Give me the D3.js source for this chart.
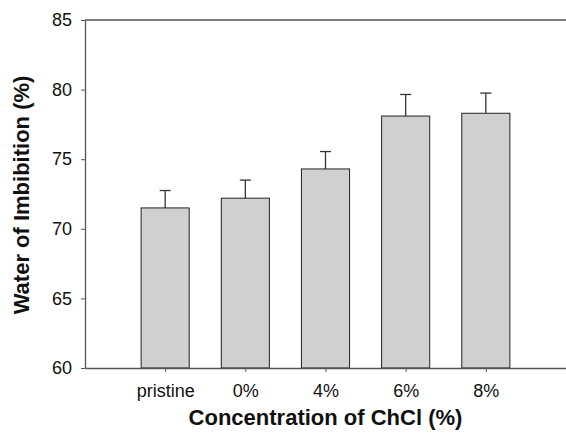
<!DOCTYPE html>
<html>
<head>
<meta charset="utf-8">
<script src="https://cdn.jsdelivr.net/npm/d3@7"></script>
<style>
  body { margin: 0; background: #fff; }
  svg { display: block; font-family: "Liberation Sans", Arial, sans-serif; }
</style>
</head>
<body>
<div id="chart"></div>
<script>
// data
const categories = ["pristine", "0%", "4%", "6%", "8%"];
const means = [71.5, 72.2, 74.3, 78.1, 78.3];
const errors = [1.25, 1.3, 1.25, 1.55, 1.45];
const yTicks = [60, 65, 70, 75, 80, 85];

const W = 566, H = 433;
const margin = {top: 20, right: 0, bottom: 65, left: 85};
const width = W - margin.left - margin.right;
const height = 368 - margin.top;

const svg = d3.select("#chart").append("svg")
    .attr("width", W)
    .attr("height", H);

const g = svg.append("g")
    .attr("transform", `translate(${margin.left},${margin.top})`);

const x = d3.scalePoint()
    .domain(categories)
    .range([0, width])
    .padding(1);

const y = d3.scaleLinear()
    .domain([60, 85])
    .range([height, 0]);

const barW = x.step() * 0.6;
const axisColor = "#555";

// bars
g.selectAll("rect.bar")
    .data(means)
    .enter()
    .append("rect")
    .attr("class", "bar")
    .attr("x", (d, i) => x(categories[i]) - barW / 2)
    .attr("y", d => y(d))
    .attr("width", barW)
    .attr("height", d => height - y(d))
    .attr("fill", "#d0d0d0")
    .attr("stroke", "#222")
    .attr("stroke-width", 1);

// error bars (upper only)
const err = g.selectAll("g.err")
    .data(means)
    .enter()
    .append("g")
    .attr("class", "err");

err.append("line")
    .attr("x1", (d, i) => x(categories[i]))
    .attr("x2", (d, i) => x(categories[i]))
    .attr("y1", d => y(d))
    .attr("y2", (d, i) => y(d + errors[i]))
    .attr("stroke", "#333")
    .attr("stroke-width", 1.3);

err.append("line")
    .attr("x1", (d, i) => x(categories[i]) - 5.5)
    .attr("x2", (d, i) => x(categories[i]) + 5.5)
    .attr("y1", (d, i) => y(d + errors[i]))
    .attr("y2", (d, i) => y(d + errors[i]))
    .attr("stroke", "#333")
    .attr("stroke-width", 1.3);

// axes
const axeX = d3.axisBottom(x).tickSize(4).tickPadding(12).tickSizeOuter(0);
const axeY = d3.axisLeft(y).tickValues(yTicks).tickSize(4).tickPadding(9).tickSizeOuter(0);

const groupeX = g.append("g")
    .attr("transform", `translate(0,${height})`)
    .call(axeX);
const groupeY = g.append("g").call(axeY);

// top frame line
g.append("line")
    .attr("x1", 0).attr("x2", width)
    .attr("y1", 0).attr("y2", 0)
    .attr("stroke", axisColor)
    .attr("stroke-width", 1.3);

[groupeX, groupeY].forEach(a => {
    a.select(".domain").attr("stroke", axisColor).attr("stroke-width", 1.3);
    a.selectAll(".tick line").attr("stroke", axisColor);
    a.selectAll("text").attr("fill", "#111").style("font-size", "18px");
});
groupeX.raise();
groupeY.raise();

// titles
svg.append("text")
    .attr("x", margin.left + width / 2)
    .attr("y", 425)
    .attr("text-anchor", "middle")
    .style("font-size", "22px")
    .style("font-weight", "bold")
    .attr("fill", "#111")
    .text("Concentration of ChCl (%)");

svg.append("text")
    .attr("transform", "translate(29,195) rotate(-90)")
    .attr("text-anchor", "middle")
    .style("font-size", "22px")
    .style("font-weight", "bold")
    .attr("fill", "#111")
    .text("Water of Imbibition (%)");
</script>
</body>
</html>
